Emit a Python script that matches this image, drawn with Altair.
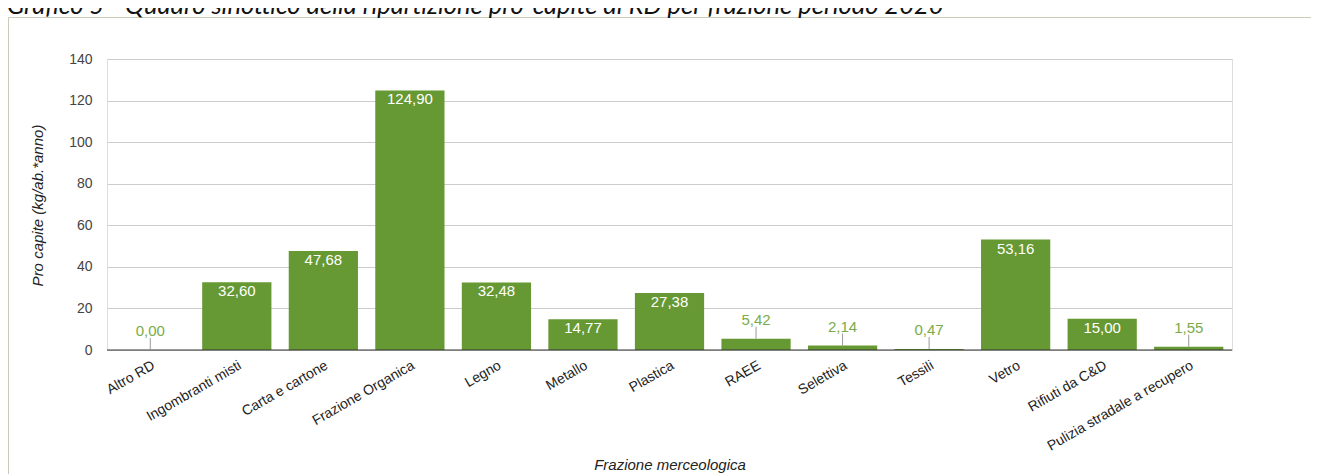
import altair as alt
import pandas as pd

categories = ["Altro RD", "Ingombranti misti", "Carta e cartone", "Frazione Organica",
              "Legno", "Metallo", "Plastica", "RAEE", "Selettiva", "Tessili", "Vetro",
              "Rifiuti da C&D", "Pulizia stradale a recupero"]
values = [0.00, 32.60, 47.68, 124.90, 32.48, 14.77, 27.38, 5.42, 2.14, 0.47, 53.16, 15.00, 1.55]
y_ticks = list(range(0, 150, 10))
title_text = "Grafico 5 - Quadro sinottico della ripartizione pro-capite di RD per frazione periodo 2020"

df = pd.DataFrame({"cat": categories, "v": values})
one = pd.DataFrame({"a": [0]})

BAR = "#669933"
LBL = "#7aab4a"
FONT = "Liberation Sans"

x_enc = alt.X("cat:N", sort=categories,
              scale=alt.Scale(paddingInner=0.2, paddingOuter=0.1),
              axis=alt.Axis(title="Frazione merceologica", labelAngle=-30, labelAlign="right",
                            labelBaseline="top", labelPadding=8, labelFontSize=14,
                            labelColor="#222222", labelFont=FONT, ticks=False, domain=False,
                            titleFont=FONT, titleFontSize=15, titleFontStyle="italic",
                            titleFontWeight="normal", titleColor="#222222",
                            titleY=119, titleBaseline="alphabetic"))
y_scale = alt.Scale(domain=[0, 140], nice=False)
y_enc = alt.Y("v:Q", scale=y_scale,
              axis=alt.Axis(title="Pro capite (kg/ab.*anno)", values=y_ticks,
                            labelExpr="datum.value % 20 === 0 ? datum.value : ''",
                            gridColor={"condition": {"test": "datum.value % 20 === 0", "value": "#cccccc"},
                                       "value": "#ebebeb"},
                            ticks=False, domain=False, labelPadding=15, labelFontSize=14,
                            labelColor="#444444", labelFont=FONT,
                            titleFont=FONT, titleFontSize=15, titleFontStyle="italic",
                            titleFontWeight="normal", titleColor="#222222",
                            titleX=-70, titleY=146, titleAngle=-90, titleAlign="center",
                            titleBaseline="middle"))

base = alt.Chart(df).transform_calculate(
    lab="replace(format(datum.v, '.2f'), '.', ',')"
)

bars = base.mark_bar(color=BAR).encode(x=x_enc, y=y_enc)

inside = base.transform_filter("datum.v >= 10").mark_text(
    color="white", baseline="top", dy=2, fontSize=15, font=FONT
).encode(x=alt.X("cat:N", sort=categories), y=alt.Y("v:Q", scale=y_scale), text="lab:N")

outside = base.transform_filter("datum.v < 10").mark_text(
    color=LBL, baseline="alphabetic", dy=-14, fontSize=15, font=FONT
).encode(x=alt.X("cat:N", sort=categories), y=alt.Y("v:Q", scale=y_scale), text="lab:N")

stems = base.transform_filter("datum.v < 10").mark_rule(
    color="#999999", strokeWidth=1, y2Offset=-12
).encode(x=alt.X("cat:N", sort=categories), y=alt.Y("v:Q", scale=y_scale), y2="v:Q")

zero = alt.Chart(one).mark_rule(color="#333333", strokeWidth=1).encode(y=alt.datum(0))

border = alt.Chart(one).mark_rect(filled=False, stroke="#c8ccb8", strokeWidth=1).encode(
    x=alt.value(-98.5), x2=alt.value(1300), y=alt.value(-41.5), y2=alt.value(600)
)

title = alt.Chart(one).mark_text(
    text=title_text, font="Lato", fontStyle="italic", fontSize=25.5, color="#111111",
    align="left", baseline="alphabetic"
).encode(x=alt.value(-100), y=alt.value(-45))

chart = alt.layer(border, title, bars, zero, stems, outside, inside).properties(
    width=1125, height=291,
    autosize=alt.AutoSizeParams(type="none"),
    padding={"left": 99, "top": 51, "right": 79, "bottom": 124},
).configure_view(stroke=None).configure(background="white")

chart.save("out.html", embed_options={"renderer": "svg", "actions": False})
